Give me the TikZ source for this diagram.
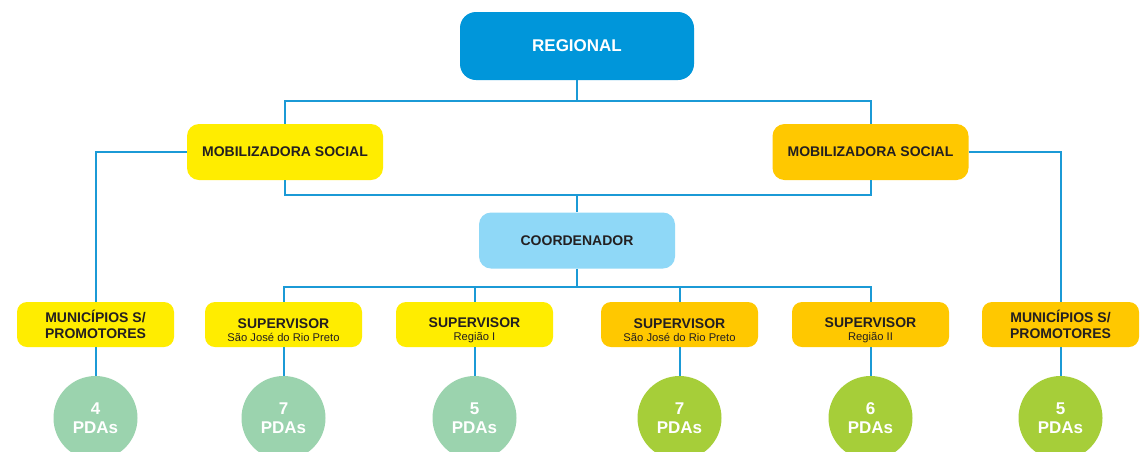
\documentclass[tikz,border=0pt]{standalone}
\usepackage{fontspec}
\setmainfont{Liberation Sans}
\definecolor{lineblue}{HTML}{1B9AD6}
\definecolor{regblue}{HTML}{0096DA}
\definecolor{ylw}{HTML}{FFED00}
\definecolor{org}{HTML}{FFC800}
\definecolor{lblue}{HTML}{8FD8F7}
\definecolor{mint}{HTML}{9BD3AE}
\definecolor{lime}{HTML}{A6CE39}
\definecolor{txt}{HTML}{231F20}
\newcommand\subtxt[1]{{\mdseries\fontsize{11.2}{12}\selectfont #1}}
\newcommand\supstrut{\rule{0pt}{22pt}}
\tikzset{
  box/.style={rounded corners=12pt, inner sep=0pt, align=center, text=txt, font=\bfseries\fontsize{14}{15}\selectfont},
  topbox/.style={box, minimum width=196pt, minimum height=56pt},
  lowbox/.style={box, minimum width=157pt, minimum height=45pt, rounded corners=10pt},
  pda/.style={circle, minimum size=84pt, inner sep=0pt, align=center, text=white, font=\bfseries\fontsize{17}{19}\selectfont},
  conn/.style={draw=lineblue, line width=2pt}
}
\begin{document}
\begin{tikzpicture}[x=1pt,y=-1pt]
\useasboundingbox (0,0) rectangle (1143,451);
\clip (0,0) rectangle (1143,451);
\fill[white] (0,0) rectangle (1143,451);
% nodes
\node[box, fill=regblue, text=white, minimum width=234pt, minimum height=68pt, rounded corners=16pt, font=\bfseries\fontsize{17}{18}\selectfont] (reg) at (577,46) {REGIONAL};
\node[topbox, fill=ylw] (mobL) at (285,152) {MOBILIZADORA SOCIAL};
\node[topbox, fill=org] (mobR) at (870.5,152) {MOBILIZADORA SOCIAL};
\node[topbox, fill=lblue] (coord) at (577,240.5) {COORDENADOR};
\node[lowbox, fill=ylw] (munL) at (95.5,324.5) {MUNICÍPIOS S/\\[0.5pt]PROMOTORES};
\node[lowbox, fill=ylw] (sup1) at (283.5,324.5) {\supstrut SUPERVISOR\\[-2pt]\subtxt{São José do Rio Preto}};
\node[lowbox, fill=ylw] (sup2) at (474.5,324.5) {\supstrut SUPERVISOR\\[-2pt]\subtxt{Região I}};
\node[lowbox, fill=org] (sup3) at (679.5,324.5) {\supstrut SUPERVISOR\\[-2pt]\subtxt{São José do Rio Preto}};
\node[lowbox, fill=org] (sup4) at (870.5,324.5) {\supstrut SUPERVISOR\\[-2pt]\subtxt{Região II}};
\node[lowbox, fill=org] (munR) at (1060.5,324.5) {MUNICÍPIOS S/\\[0.5pt]PROMOTORES};
\node[pda, fill=mint] (c1) at (95.5,418) {4\\PDAs};
\node[pda, fill=mint] (c2) at (283.5,418) {7\\PDAs};
\node[pda, fill=mint] (c3) at (474.5,418) {5\\PDAs};
\node[pda, fill=lime] (c4) at (679.5,418) {7\\PDAs};
\node[pda, fill=lime] (c5) at (870.5,418) {6\\PDAs};
\node[pda, fill=lime] (c6) at (1060.5,418) {5\\PDAs};
% junctions
\coordinate (j1) at (577,101);
\coordinate (j2) at (577,195);
\coordinate (j3) at (577,287);
% connectors
\draw[conn] (reg.south) -- (j1);
\draw[conn] (mobL.north) |- (j1) -| (mobR.north);
\draw[conn] (mobL.south) |- (j2) -| (mobR.south);
\draw[conn] (j2) -- (coord.north);
\draw[conn] (coord.south) -- (j3);
\draw[conn] (sup1.north) |- (j3) -| (sup4.north);
\draw[conn] (sup2.north) -- (sup2.north |- j3);
\draw[conn] (sup3.north) -- (sup3.north |- j3);
\draw[conn] (mobL.west) -| (munL.north);
\draw[conn] (mobR.east) -| (munR.north);
\draw[conn] (munL.south) -- (c1.north);
\draw[conn] (sup1.south) -- (c2.north);
\draw[conn] (sup2.south) -- (c3.north);
\draw[conn] (sup3.south) -- (c4.north);
\draw[conn] (sup4.south) -- (c5.north);
\draw[conn] (munR.south) -- (c6.north);
\end{tikzpicture}
\end{document}
